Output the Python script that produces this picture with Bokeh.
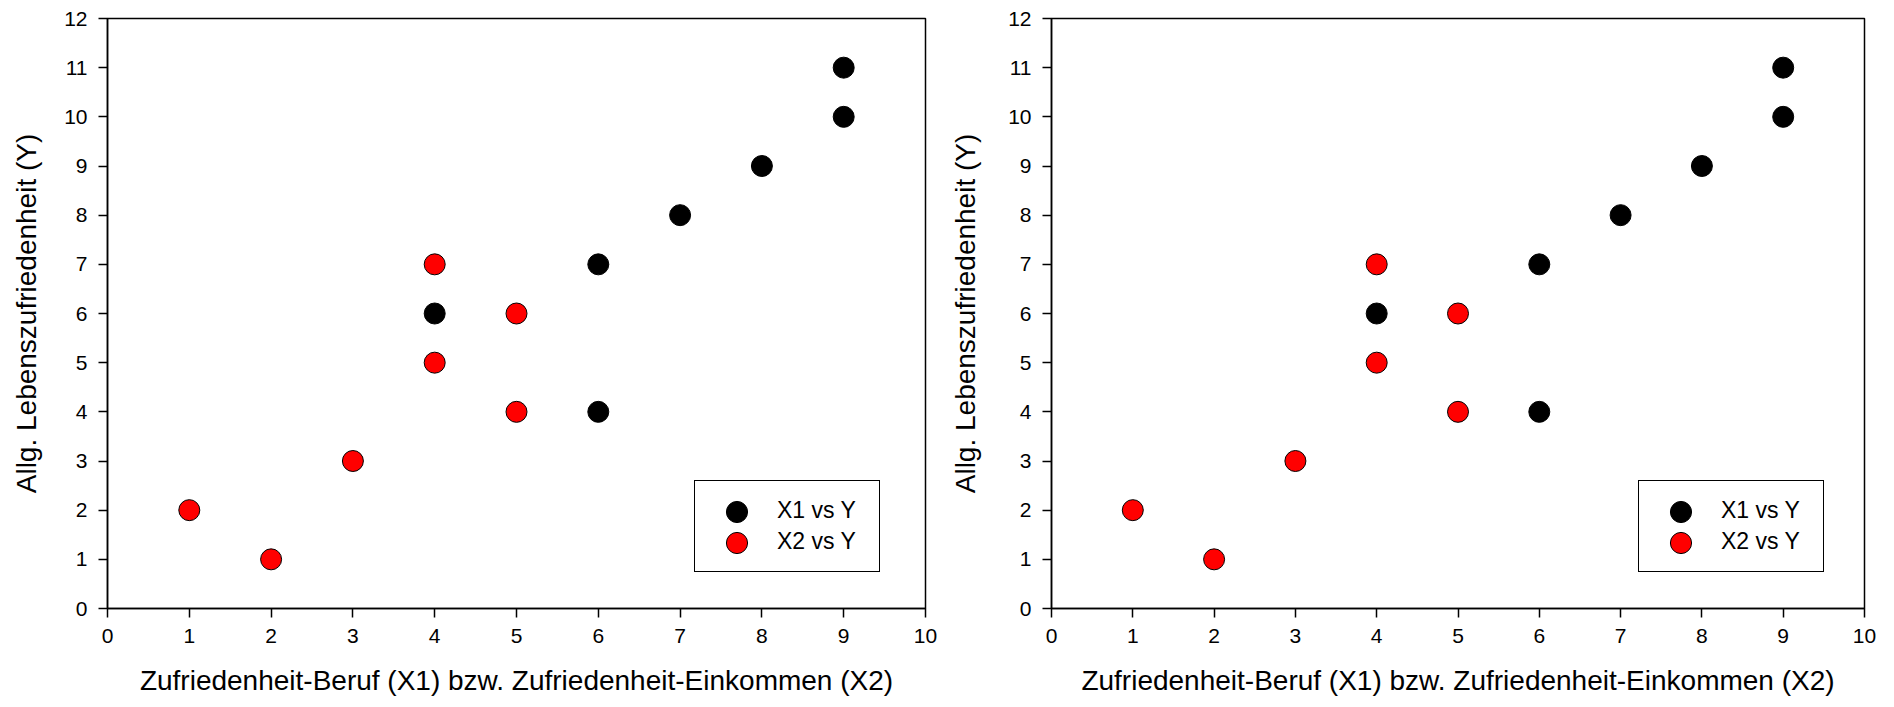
from bokeh.plotting import figure
from bokeh.layouts import row
from bokeh.models import Legend, LegendItem, Range1d, FixedTicker
from bokeh.embed import file_html
from bokeh.resources import INLINE

x1 = [4, 6, 6, 7, 8, 9, 9]
y1 = [6, 7, 4, 8, 9, 10, 11]
x2 = [1, 2, 3, 4, 4, 5, 5]
y2 = [2, 1, 3, 5, 7, 4, 6]
x_ticks = list(range(0, 11))
y_ticks = list(range(0, 13))
x_label = "Zufriedenheit-Beruf (X1) bzw. Zufriedenheit-Einkommen (X2)"
y_label = "Allg. Lebenszufriedenheit (Y)"
series_names = ["X1 vs Y", "X2 vs Y"]

FONT = "Liberation Sans"


def make_panel(width, left, right, ylab_standoff):
    p = figure(width=width, height=707, output_backend="svg", toolbar_location=None,
               x_range=Range1d(0, 10), y_range=Range1d(0, 12),
               min_border_left=left, min_border_right=right,
               min_border_top=18, min_border_bottom=99)
    p.grid.visible = False
    p.outline_line_color = "black"
    p.outline_line_alpha = 1
    p.outline_line_width = 1.5
    p.background_fill_color = "white"
    p.border_fill_color = "white"
    for ax, ticks in ((p.xaxis, x_ticks), (p.yaxis, y_ticks)):
        ax.ticker = FixedTicker(ticks=ticks)
        ax.minor_tick_line_color = None
        ax.major_tick_in = 0
        ax.major_tick_out = 9
        ax.major_tick_line_width = 1.5
        ax.axis_line_width = 1.5
        ax.axis_line_color = "black"
        ax.major_tick_line_color = "black"
        ax.major_label_text_font = FONT
        ax.major_label_text_font_size = "21px"
        ax.major_label_text_color = "black"
        ax.axis_label_text_font = FONT
        ax.axis_label_text_font_size = "28px"
        ax.axis_label_text_font_style = "normal"
        ax.axis_label_text_color = "black"
    p.xaxis.axis_label = x_label
    p.yaxis.axis_label = y_label
    p.xaxis.major_label_standoff = 11
    p.yaxis.major_label_standoff = 11
    p.xaxis.axis_label_standoff = 19
    p.yaxis.axis_label_standoff = ylab_standoff

    r1 = p.scatter(x1, y1, size=21, fill_color="black", line_color="black", line_width=1)
    r2 = p.scatter(x2, y2, size=21, fill_color="#ff0000", line_color="black", line_width=1)

    common = dict(label_text_font=FONT, label_text_font_size="23px",
                  label_text_color="black", margin=0)
    box = Legend(items=[LegendItem(label=series_names[0], renderers=[r1]),
                        LegendItem(label=series_names[1], renderers=[r2])],
                 location=(587, 36), padding=14, spacing=0,
                 glyph_width=57, glyph_height=31, label_standoff=11,
                 label_width=88, label_height=31,
                 border_line_color="black", border_line_alpha=1, border_line_width=1.5,
                 background_fill_color="white", background_fill_alpha=1, **common)
    p.add_layout(box, "center")
    # larger legend markers drawn over the small default ones (no text)
    for r, loc in ((r1, (603, 70)), (r2, (603, 39))):
        big = Legend(items=[LegendItem(label="", renderers=[r])],
                     location=loc, padding=0, spacing=0,
                     glyph_width=53, glyph_height=53, label_standoff=0,
                     label_width=0, label_height=20,
                     border_line_color=None, background_fill_alpha=0, **common)
        p.add_layout(big, "center")
    return p


left = make_panel(947, 107, 22, 19)
right = make_panel(947, 99, 30, 24)
layout = row(left, right)

open("out.html", "w").write(file_html(layout, INLINE))
